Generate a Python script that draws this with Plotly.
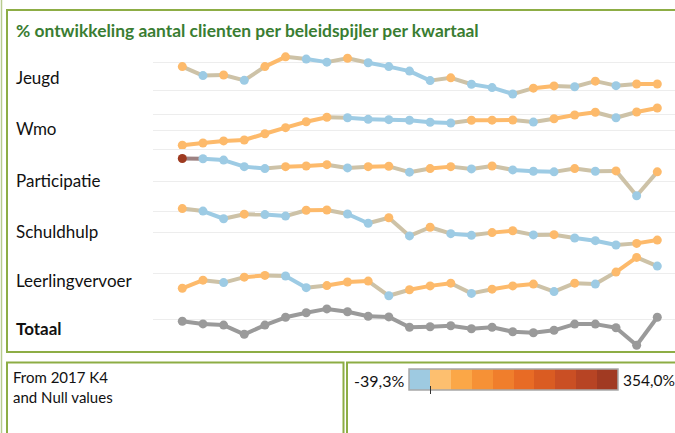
import plotly.graph_objects as go

# ---------------- data ----------------
quarters = ["2017 K4",
            "2018 K1", "2018 K2", "2018 K3", "2018 K4",
            "2019 K1", "2019 K2", "2019 K3", "2019 K4",
            "2020 K1", "2020 K2", "2020 K3", "2020 K4",
            "2021 K1", "2021 K2", "2021 K3", "2021 K4",
            "2022 K1", "2022 K2", "2022 K3", "2022 K4",
            "2023 K1", "2023 K2", "2023 K3"]

row_labels = ["Jeugd", "Wmo", "Participatie", "Schuldhulp", "Leerlingvervoer", "Totaal"]

jeugd = [8.6, 5.4, 5.6, 3.7, 8.6, 12.1, 11.3, 10.2, 11.6, 10.0, 8.6, 7.0,
         3.6, 4.6, 2.3, 1.1, -1.2, 0.9, 1.7, 1.4, 3.4, 1.8, 2.4, 2.4]
wmo = [-9.1, -7.7, -6.4, -5.8, -1.9, 1.9, 5.6, 8.4, 8.1, 7.1, 6.9, 6.5,
       5.3, 4.8, 6.5, 6.6, 6.7, 5.4, 7.5, 9.8, 11.5, 8.1, 11.7, 14.2]
participatie = [7.2, 7.1, 6.7, 4.7, 4.1, 4.7, 4.9, 5.3, 4.3, 4.7, 4.8, 3.0,
                4.1, 4.7, 4.0, 4.9, 3.7, 3.3, 3.1, 4.1, 3.3, 3.4, -4.2, 3.1]
schuldhulp = [11.3, 10.1, 6.4, 8.6, 8.4, 7.7, 10.5, 10.6, 8.7, 4.2, 6.9, -1.9,
              2.3, -0.8, -1.6, -0.3, 0.6, -1.4, -1.3, -2.9, -4.2, -6.3, -5.5, -3.9]
leerlingvervoer = [-5.0, -2.3, -3.1, -1.3, -0.7, -0.9, -4.8, -4.1, -2.9, -2.6, -7.5, -5.5,
                   -4.2, -3.3, -6.7, -5.3, -4.2, -3.6, -6.1, -3.3, -3.6, 0.4, 5.3, 2.4]
totaal = [-1.0, -2.3, -2.9, -7.5, -2.9, 1.0, 3.3, 5.2, 3.8, 1.5, 1.2, -4.0,
          -3.7, -3.2, -4.7, -4.0, -6.2, -6.7, -5.5, -2.4, -2.4, -4.2, -13.0, 1.0]

# change class per point: o = increase, b = decrease, r = very large increase, g = total
jeugd_cls = "o b o b o o b b o b b b b o b b b o o b o b o o".split()
wmo_cls = "o o o o o o o o b b b b b b o o o b o o o b o o".split()
participatie_cls = "r b b b b o o o b o o b o o b o b b b o b o b o".split()
schuldhulp_cls = "o b b o b b o o b b o b o b b o o b o b b b o o".split()
leerlingvervoer_cls = "o o b o o b b o o o b o o o b o o o b o b o o b".split()
totaal_cls = ["g"] * 24

series = [jeugd, wmo, participatie, schuldhulp, leerlingvervoer, totaal]
classes = [jeugd_cls, wmo_cls, participatie_cls, schuldhulp_cls, leerlingvervoer_cls, totaal_cls]

note_lines = ["From 2017 K4", "and Null values"]
legend_min_label = "-39,3%"
legend_max_label = "354,0%"
legend_colors = ["#9ECAE1", "#FDBF6F", "#FBA747", "#F69136", "#F07E2C",
                 "#E86B25", "#DA5C22", "#CA4F24", "#B74424", "#A13A22"]

# ---------------- styling ----------------
W, H = 675, 433


def X(px):
    return px / W


def Y(py):
    return 1 - py / H


COL = {"o": "#FDBA6B", "b": "#9DCBE4", "r": "#9E3A20", "g": "#9A9A9A"}
FONT = "Lato, 'Open Sans', sans-serif"
GREEN = "#8DAD45"


def hexmix(a, b):
    a = a.lstrip("#"); b = b.lstrip("#")
    ca = [int(a[i:i + 2], 16) for i in (0, 2, 4)]
    cb = [int(b[i:i + 2], 16) for i in (0, 2, 4)]
    return "#%02X%02X%02X" % tuple((x + y) // 2 for x, y in zip(ca, cb))


# per-row axis ranges and gridline ticks (value units)
y_ranges = [(-2.54, 15.43), (-10.875, 20.56), (-5.02, 10.37),
            (-8.07, 16.23), (-8.57, 8.2), (-15.0, 10.15)]
y_ticks = [[0, 10], [0, 10], [0, 10], [0, 10], [0], [0]]

pane_top0, pane_h = 47.5, 50.3

fig = go.Figure()
layout_axes = {}
for r, (vals, cls) in enumerate(zip(series, classes)):
    yname = "y" if r == 0 else f"y{r + 1}"
    axname = "yaxis" if r == 0 else f"yaxis{r + 1}"
    top = pane_top0 + pane_h * r
    bot = top + pane_h
    layout_axes[axname] = dict(
        domain=[Y(bot), Y(top)], range=list(y_ranges[r]),
        tickvals=y_ticks[r], showticklabels=False, showgrid=True,
        gridcolor="#EDEDED", gridwidth=1, zeroline=False, showline=False,
        ticks="", fixedrange=True)
    groups = {}
    for i in range(len(vals) - 1):
        c = COL[cls[i]] if cls[i] == cls[i + 1] else hexmix(COL[cls[i]], COL[cls[i + 1]])
        gx, gy = groups.setdefault(c, ([], []))
        gx += [quarters[i], quarters[i + 1], None]
        gy += [vals[i], vals[i + 1], None]
    for c, (gx, gy) in groups.items():
        fig.add_trace(go.Scatter(x=gx, y=gy, mode="lines", yaxis=yname, xaxis="x",
                                 line=dict(color=c, width=4), hoverinfo="skip",
                                 showlegend=False, cliponaxis=False))
    fig.add_trace(go.Scatter(x=quarters, y=vals, mode="markers", yaxis=yname, xaxis="x",
                             marker=dict(color=[COL[k] for k in cls], size=9),
                             showlegend=False, cliponaxis=False,
                             name=row_labels[r]))

# colour legend as heatmap
n = len(legend_colors)
cscale = []
for i, c in enumerate(legend_colors):
    cscale.append([i / n, c])
    cscale.append([(i + 1) / n, c])
fig.add_trace(go.Heatmap(z=[list(range(n))], x=list(range(n)), y=[0],
                         xaxis="x2", yaxis="y7", colorscale=cscale,
                         zmin=-0.5, zmax=n - 0.5, showscale=False, hoverinfo="skip"))

bx0, bx1, by0, by1 = 409, 618, 369, 390

fig.update_layout(
    width=W, height=H, margin=dict(l=0, r=0, t=0, b=0, autoexpand=False),
    paper_bgcolor="white", plot_bgcolor="white",
    xaxis=dict(domain=[X(153), 1.0], range=[-1.419, 23.0 + (675 - 657.3) / 20.652],
               visible=False, type="category", categoryorder="array",
               categoryarray=quarters, fixedrange=True),
    xaxis2=dict(domain=[X(bx0), X(bx1)], range=[-0.5, n - 0.5], visible=False,
                fixedrange=True),
    yaxis7=dict(domain=[Y(by1), Y(by0)], range=[-0.5, 0.5], visible=False,
                anchor="x2", fixedrange=True),
    showlegend=False, hovermode=False,
    font=dict(family=FONT, size=14, color="#222222"),
    **layout_axes,
)

shapes = [
    dict(type="line", xref="paper", yref="paper", x0=X(1.5), x1=X(1.5), y0=-0.1, y1=1.1,
         line=dict(color="#B7CB8E", width=1.5)),
    dict(type="rect", xref="paper", yref="paper", x0=X(7), x1=X(690),
         y0=Y(352), y1=Y(10), line=dict(color=GREEN, width=2)),
    dict(type="rect", xref="paper", yref="paper", x0=X(7), x1=X(343.5),
         y0=Y(445), y1=Y(362.5), line=dict(color=GREEN, width=2)),
    dict(type="rect", xref="paper", yref="paper", x0=X(347), x1=X(690),
         y0=Y(445), y1=Y(362.5), line=dict(color=GREEN, width=2)),
    dict(type="rect", xref="paper", yref="paper", x0=X(bx0), x1=X(bx1),
         y0=Y(by1), y1=Y(by0), line=dict(color="#A8A8A8", width=1.5)),
    dict(type="line", xref="paper", yref="paper", x0=X(430.5), x1=X(430.5),
         y0=Y(394), y1=Y(386), line=dict(color="#333333", width=1)),
]

ann = [dict(text="<b>% ontwikkeling aantal clienten per beleidspijler per kwartaal</b>",
            x=X(14), y=Y(30), xref="paper", yref="paper", xanchor="left",
            yanchor="middle", showarrow=False,
            font=dict(family=FONT, size=17.4, color="#3A7D32"))]
label_y = [77, 128, 180, 231, 280, 328]
for lab, ly in zip(row_labels, label_y):
    txt = f"<b>{lab}</b>" if lab == "Totaal" else lab
    ann.append(dict(text=txt, x=X(14), y=Y(ly), xref="paper", yref="paper",
                    xanchor="left", yanchor="middle", showarrow=False,
                    font=dict(family=FONT, size=17, color="#111111")))
ann.append(dict(text="<br>".join(note_lines), x=X(11), y=Y(387), xref="paper", yref="paper",
                xanchor="left", yanchor="middle", align="left", showarrow=False,
                font=dict(family=FONT, size=15, color="#111111")))
ann.append(dict(text=legend_min_label, x=X(406), y=Y(380), xref="paper", yref="paper",
                xanchor="right", yanchor="middle", showarrow=False,
                font=dict(family=FONT, size=16, color="#111111")))
ann.append(dict(text=legend_max_label, x=X(621), y=Y(380), xref="paper", yref="paper",
                xanchor="left", yanchor="middle", showarrow=False,
                font=dict(family=FONT, size=15.5, color="#111111")))

fig.update_layout(shapes=shapes, annotations=ann)
fig.write_html("out.html", config={"displayModeBar": False},
               post_script="document.body.style.margin='0';document.body.style.overflow='hidden';")
